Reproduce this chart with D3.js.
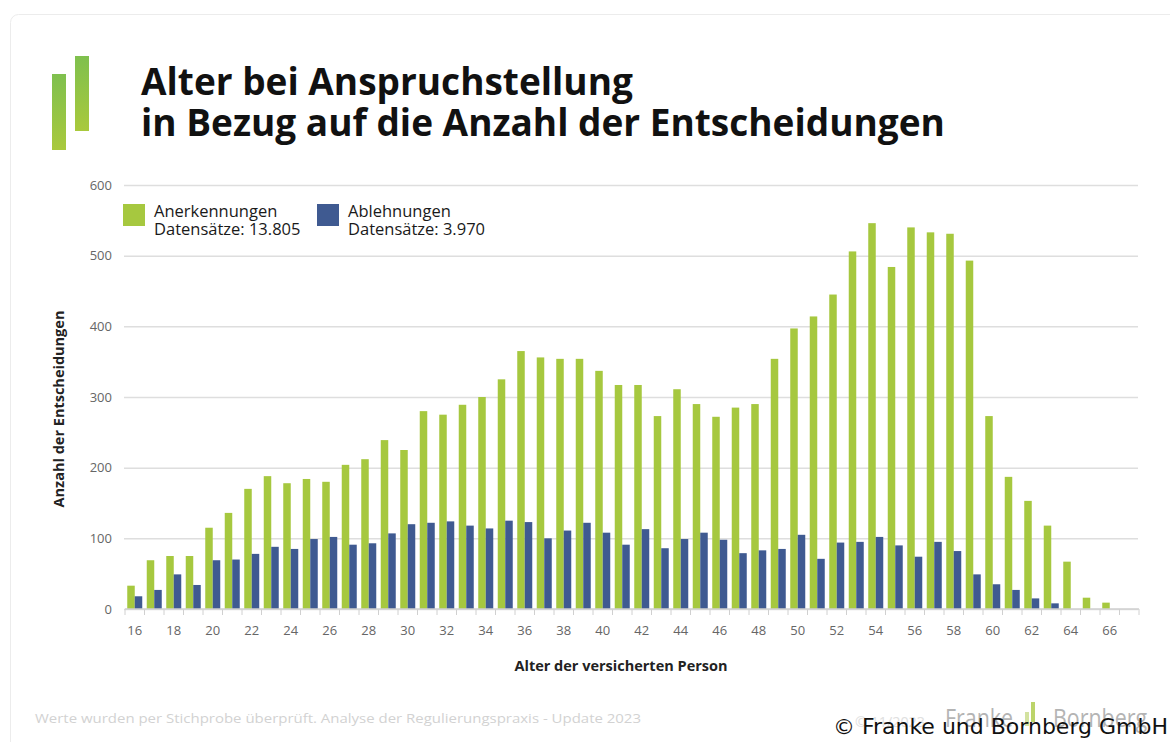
<!DOCTYPE html>
<html>
<head>
<meta charset="utf-8">
<script src="https://cdn.jsdelivr.net/npm/d3@7"></script>
<style>
  body { margin: 0; background: #fff; }
  svg text { font-family: "Open Sans", sans-serif; }
</style>
</head>
<body>
<svg id="drawing_region"></svg>
<script>
// Alter der versicherten Person (16..66, plus an empty slot at the end)
const ages = d3.range(16, 68);
const tickAges = [16, 18, 20, 22, 24, 26, 28, 30, 32, 34, 36, 38, 40, 42, 44, 46, 48, 50, 52, 54, 56, 58, 60, 62, 64, 66];
const yTicks = [0, 100, 200, 300, 400, 500, 600];

// Anerkennungen per age 16..66
const anerkennungen = [33, 69, 75, 75, 115, 136, 170, 188, 178, 184,
    180, 204, 212, 239, 225, 280, 275, 289, 300, 325,
    365, 356, 354, 354, 337, 317, 317, 273, 311, 290,
    272, 285, 290, 354, 397, 414, 445, 506, 546, 484,
    540, 533, 531, 493, 273, 187, 153, 118, 67, 16, 9];

// Ablehnungen per age 16..66
const ablehnungen = [18, 27, 49, 34, 69, 70, 78, 88, 85, 99,
    102, 91, 93, 107, 120, 122, 124, 118, 114, 125,
    123, 100, 111, 122, 108, 91, 113, 86, 99, 108,
    98, 79, 83, 85, 105, 71, 94, 95, 102, 90,
    74, 95, 82, 49, 35, 27, 15, 8, 0, 0, 0];

const seriesNames = ["Anerkennungen", "Ablehnungen"];
const seriesLabels = ["Datensätze: 13.805", "Datensätze: 3.970"];
const colors = { Anerkennungen: "#a6c83f", Ablehnungen: "#3f5a91" };

const data = ages.slice(0, 51).map((a, i) => ({
    age: a, Anerkennungen: anerkennungen[i], Ablehnungen: ablehnungen[i]
}));

const W = 1170, H = 742;
const svg = d3.select('#drawing_region').attr('width', W).attr('height', H);

// card
svg.append('rect')
    .attr('x', 10.5).attr('y', 14.5)
    .attr('width', 1200).attr('height', 800)
    .attr('rx', 8)
    .attr('fill', '#fff')
    .attr('stroke', '#ececec');

// logo bars
const grad = svg.append('defs').append('linearGradient')
    .attr('id', 'logo_grad').attr('x1', 0).attr('y1', 0).attr('x2', 0).attr('y2', 1);
grad.append('stop').attr('offset', '0%').attr('stop-color', '#7fc04e');
grad.append('stop').attr('offset', '100%').attr('stop-color', '#a9c93c');
svg.append('rect').attr('x', 52).attr('y', 74).attr('width', 14).attr('height', 76).attr('fill', 'url(#logo_grad)');
svg.append('rect').attr('x', 75).attr('y', 56).attr('width', 14).attr('height', 75).attr('fill', 'url(#logo_grad)');

// title
svg.append('text').attr('x', 141).attr('y', 95)
    .attr('font-size', 37).attr('font-weight', 700).attr('fill', '#111')
    .text('Alter bei Anspruchstellung');
svg.append('text').attr('x', 141).attr('y', 136)
    .attr('font-size', 37).attr('font-weight', 700).attr('fill', '#111')
    .text('in Bezug auf die Anzahl der Entscheidungen');

const margin = { left: 125, right: 31, top: 185, bottom: 133 };
const innerW = W - margin.left - margin.right;
const innerH = H - margin.top - margin.bottom;

const chart = svg.append('g')
    .attr('transform', `translate(${margin.left}, ${margin.top})`);

const xscale = d3.scaleBand().domain(ages).range([0, innerW]).padding(0);
const xsub = d3.scaleBand().domain(seriesNames).range([0, xscale.bandwidth()]).paddingInner(0).paddingOuter(0.3);
const yscale = d3.scaleLinear().domain([0, 600]).range([innerH, 0]);

// grid + y labels
const yaxis = d3.axisLeft(yscale).tickValues(yTicks).tickSize(-innerW).tickPadding(12);
const yg = chart.append('g').attr('transform', 'translate(-1,0)').call(yaxis);
yg.select('.domain').remove();
yg.selectAll('.tick line').attr('stroke', '#dedede').attr('stroke-width', 1.5);
yg.selectAll('.tick text').attr('font-size', 13).attr('fill', '#666');

// bars
const groups = chart.selectAll('g.age')
    .data(data)
    .join('g')
    .attr('class', 'age')
    .attr('transform', d => `translate(${xscale(d.age)},0)`);

groups.selectAll('rect')
    .data(d => seriesNames.map(k => ({ key: k, value: d[k] })))
    .join('rect')
    .attr('x', d => xsub(d.key))
    .attr('width', xsub.bandwidth())
    .attr('y', d => yscale(d.value))
    .attr('height', d => innerH - yscale(d.value))
    .attr('fill', d => colors[d.key]);

// x axis
const xaxis_group = chart.append('g').attr('transform', `translate(0, ${innerH})`);
xaxis_group.append('line')
    .attr('x1', 0).attr('x2', innerW)
    .attr('stroke', '#d0d0d0').attr('stroke-width', 1.5);
xaxis_group.selectAll('line.sep')
    .data(ages.concat([68]))
    .join('line')
    .attr('class', 'sep')
    .attr('x1', d => d === 68 ? innerW : xscale(d))
    .attr('x2', d => d === 68 ? innerW : xscale(d))
    .attr('y1', 0).attr('y2', 6)
    .attr('stroke', '#d0d0d0');

const xaxis = d3.axisBottom(xscale).tickValues(tickAges).tickSize(0).tickPadding(17);
const xg = xaxis_group.append('g').call(xaxis);
xg.select('.domain').remove();
xg.selectAll('.tick text').attr('font-size', 13).attr('fill', '#666');

// axis titles
svg.append('text')
    .attr('transform', `translate(64, 409) rotate(-90)`)
    .attr('text-anchor', 'middle')
    .attr('font-size', 14.5).attr('font-weight', 700).attr('fill', '#222')
    .text('Anzahl der Entscheidungen');
svg.append('text')
    .attr('x', 621).attr('y', 671)
    .attr('text-anchor', 'middle')
    .attr('font-size', 14.5).attr('font-weight', 700).attr('fill', '#222')
    .text('Alter der versicherten Person');

// legend
const legend = svg.append('g').attr('transform', 'translate(123, 204)');
const lg = legend.selectAll('g')
    .data(seriesNames)
    .join('g')
    .attr('transform', (d, i) => `translate(${i * 194}, 0)`);
lg.append('rect').attr('width', 22).attr('height', 22).attr('fill', d => colors[d]);
lg.append('text').attr('x', 31).attr('y', 13)
    .attr('font-size', 16.5).attr('font-weight', 500).attr('fill', '#1a1a1a').text(d => d);
lg.append('text').attr('x', 31).attr('y', 31)
    .attr('font-size', 16.5).attr('font-weight', 500).attr('fill', '#1a1a1a').text((d, i) => seriesLabels[i]);

// footer
svg.append('text')
    .attr('x', 35).attr('y', 723)
    .attr('font-size', 12).attr('fill', '#d2d2d2')
    .attr('textLength', 606).attr('lengthAdjust', 'spacingAndGlyphs')
    .text('Werte wurden per Stichprobe überprüft. Analyse der Regulierungspraxis - Update 2023');
svg.append('text')
    .attr('x', 855).attr('y', 727)
    .attr('font-size', 15).attr('fill', '#e0e0e0')
    .attr('textLength', 70).attr('lengthAdjust', 'spacingAndGlyphs')
    .text('© 11/2023');
svg.append('text')
    .attr('x', 945).attr('y', 727)
    .attr('font-size', 25).attr('fill', '#b4b4b4')
    .attr('textLength', 68).attr('lengthAdjust', 'spacingAndGlyphs')
    .text('Franke');
svg.append('text')
    .attr('x', 1053).attr('y', 727)
    .attr('font-size', 25).attr('fill', '#b4b4b4')
    .attr('textLength', 94).attr('lengthAdjust', 'spacingAndGlyphs')
    .text('Bornberg');
svg.append('rect').attr('x', 1025).attr('y', 712).attr('width', 4).attr('height', 14).attr('fill', '#d3e2a0');
svg.append('rect').attr('x', 1031).attr('y', 702).attr('width', 4).attr('height', 20).attr('fill', '#bcd46a');
svg.append('text')
    .attr('x', 1168).attr('y', 734)
    .attr('text-anchor', 'end')
    .attr('font-size', 22).attr('fill', '#111')
    .style('font-family', '"DejaVu Sans", sans-serif')
    .text('© Franke und Bornberg GmbH');
</script>
</body>
</html>
